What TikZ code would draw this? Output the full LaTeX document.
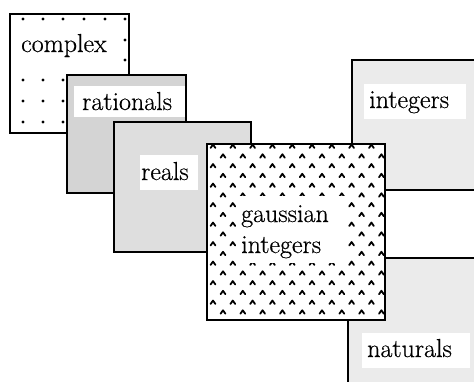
\documentclass[tikz,border=0pt]{standalone}
\usepackage{fontspec}
\newfontfamily\labfont[FakeBold=0.5]{Latin Modern Roman}
\tikzset{
  box/.style={draw=black, line width=2.6pt},
  labtext/.style={anchor=base west, inner sep=0pt, font=\labfont\fontsize{26}{30}\selectfont},
  patch/.style={fill=white, draw=none},
  chev/.style={draw=black, line width=1.8pt, line cap=round, line join=round},
}
\begin{document}
\begin{tikzpicture}[x=1pt,y=-1pt]
\useasboundingbox (0,0) rectangle (474,381);
% complex
\fill[white] (10,14) rectangle (129,133);
\foreach \x in {23,43,63,84,105,125} \foreach \y in {19,40,60,80,101,122} \fill (\x,\y) circle (1.6);
\fill[patch] (14,27) rectangle (118,69);
\draw[box] (10,14) rectangle (129,133);
\node[labtext] (complex) at (21,52) {complex};
% integers
\draw[box, fill=black!8] (352,60) rectangle (480,190);
\fill[patch] (364,84) rectangle (466,119);
\node[labtext] (integers) at (369,108) {integers};
% naturals
\draw[box, fill=black!8] (348,258) rectangle (480,390);
\fill[patch] (362,333) rectangle (470,368);
\node[labtext] (naturals) at (367,357) {naturals};
% rationals
\draw[box, fill=black!17] (67,75) rectangle (186,193);
\fill[patch] (74,86) rectangle (185,117);
\node[labtext] (rationals) at (82,110) {rationals};
% reals
\draw[box, fill=black!13] (114,122) rectangle (251,252);
\fill[patch] (140,155) rectangle (198,190);
\node[labtext] (reals) at (141,180) {reals};
% gaussian integers
\fill[white] (207,144) rectangle (385,320);
\begin{scope}
\clip (207,144) rectangle (385,320);
\foreach \j in {-1,...,8} {
  \foreach \i in {-1,...,9} {
    \draw[chev, shift={(223+19.8*\i,156+19.5*\j)}] (-2.4,1.7) -- (0,-1.7) -- (2.4,1.7);
    \draw[chev, shift={(213+19.8*\i,165.75+19.5*\j)}] (-2.4,1.7) -- (0,-1.7) -- (2.4,1.7);
  }
}
\end{scope}
\fill[patch] (236,196) rectangle (346,263);
\draw[box] (207,144) rectangle (385,320);
\node[labtext] (gauss1) at (241,222) {gaussian};
\node[labtext] (gauss2) at (241,253) {integers};
\end{tikzpicture}
\end{document}
